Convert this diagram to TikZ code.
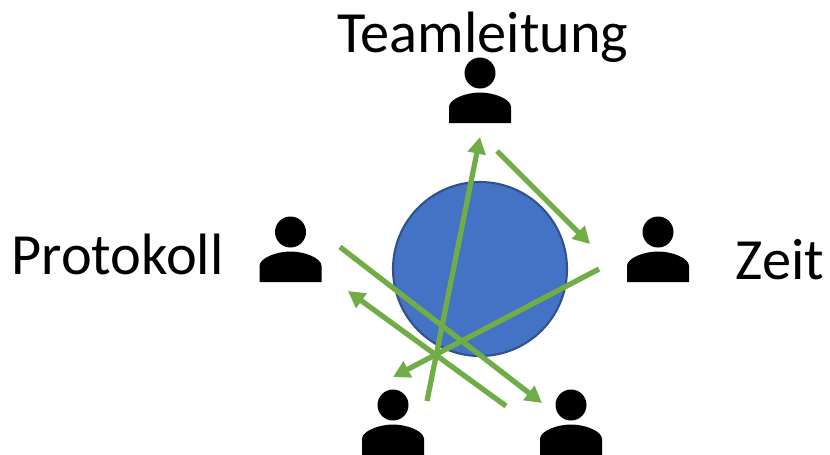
\documentclass[tikz,border=0pt]{standalone}
\usepackage{fontspec}
\setmainfont{Carlito}
\usetikzlibrary{arrows.meta}
\definecolor{talkgreen}{HTML}{70AD47}
\definecolor{tableblue}{HTML}{4472C4}
\definecolor{tableedge}{HTML}{2F528F}
\tikzset{
	talk/.style={draw=talkgreen, line width=3pt, -{Triangle[length=9.5pt,width=10pt]}},
	role/.style={anchor=base, inner sep=0pt, font=\fontsize{33.2}{40}\selectfont},
	pics/person/.style={code={
		\fill[black] (0,0) circle (15.5);
		\fill[black] (-31,50) -- (-31,34) .. controls (-31,26) and (-14,19.5) .. (0,19.5)
		.. controls (14,19.5) and (31,26) .. (31,34) -- (31,50) -- cycle;
	}}
}

\begin{document}
\begin{tikzpicture}[x=0.02cm, y=-0.02cm] % one unit is one pixel of the reference
	\useasboundingbox (0,0) rectangle (830,454);
	
	% Table in the middle
	\draw[draw=tableedge, fill=tableblue, line width=1.2pt] (480,269) circle (87);
	
	% People around the table
	\pic (lead) at (480,73) {person};
	\pic (notes) at (290.5,232) {person};
	\pic (clock) at (658,232) {person};
	\pic (left) at (393,405) {person};
	\pic (right) at (571,405) {person};
	
	% Labels
	\node[role] (teamleitung) at (483,52) {Teamleitung};
	\node[role] (protokoll) at (117.5,274) {Protokoll};
	\node[role] (zeit) at (780,279) {Zeit};
	
	% End points of the talk arrows
	\coordinate (a1) at (427,401);
	\coordinate (b1) at (480,137);
	\coordinate (a2) at (497,151);
	\coordinate (b2) at (590,244);
	\coordinate (a3) at (599,269);
	\coordinate (b3) at (393,377);
	\coordinate (a4) at (506,406);
	\coordinate (b4) at (348,291);
	\coordinate (a5) at (340,247);
	\coordinate (b5) at (542,403);
	
	% Talk arrows
	\draw[talk] (a1) -- (b1);
	\draw[talk] (a2) -- (b2);
	\draw[talk] (a3) -- (b3);
	\draw[talk] (a4) -- (b4);
	\draw[talk] (a5) -- (b5);
\end{tikzpicture}
\end{document}
